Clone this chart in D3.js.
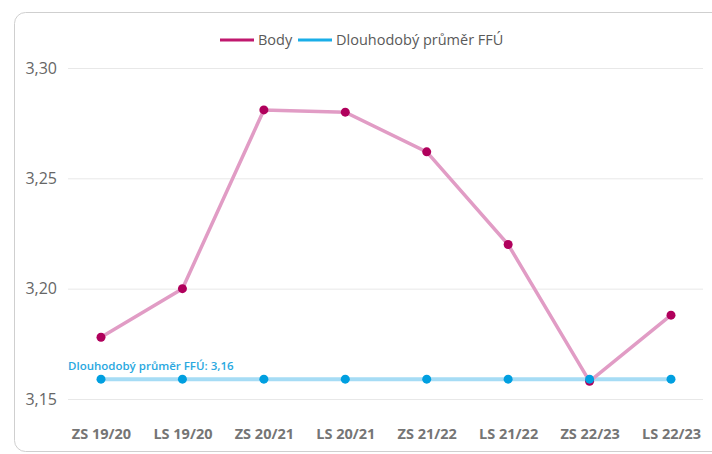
<!DOCTYPE html>
<html>
<head>
<meta charset="utf-8">
<script src="https://cdn.jsdelivr.net/npm/d3@7"></script>
<style>
  body { margin: 0; background: #fff; }
  text { font-family: "Open Sans", sans-serif; }
</style>
</head>
<body>
<div id="chart"></div>
<script>
// semesters on the x axis
const semesters = ["ZS 19/20", "LS 19/20", "ZS 20/21", "LS 20/21", "ZS 21/22", "LS 21/22", "ZS 22/23", "LS 22/23"];
// Body series
const body = [3.178, 3.200, 3.281, 3.280, 3.262, 3.220, 3.158, 3.188];
// long-term average
const prumer = [3.159, 3.159, 3.159, 3.159, 3.159, 3.159, 3.159, 3.159];
const yTicks = [3.15, 3.20, 3.25, 3.30];

const width = 712, height = 454;

const svg = d3.select("#chart").append("svg")
  .attr("width", width)
  .attr("height", height);

/* card frame */
svg.append("rect")
  .attr("x", 14.5).attr("y", 12.5)
  .attr("width", 710).attr("height", 439)
  .attr("rx", 11)
  .attr("fill", "#fff")
  .attr("stroke", "#cfcfcf");

/* scales */
const x = d3.scalePoint()
  .domain(semesters)
  .range([101, 671]);

const y = d3.scaleLinear()
  .domain([3.15, 3.30])
  .range([399, 68]);

const fmt = v => d3.format(".2f")(v).replace(".", ",");

/* y gridlines + labels */
const yAxis = d3.axisLeft(y)
  .tickValues(yTicks)
  .tickSize(-635)
  .tickPadding(11)
  .tickFormat(fmt);

const yG = svg.append("g")
  .attr("transform", "translate(68,0)")
  .call(yAxis);
yG.select(".domain").remove();
yG.selectAll(".tick line").attr("stroke", "#e8e8e8");
yG.selectAll(".tick text")
  .attr("fill", "#666")
  .style("font-size", "16px");

/* x labels */
const xAxis = d3.axisBottom(x).tickSize(0).tickPadding(0);
const xG = svg.append("g")
  .attr("transform", "translate(0,429)")
  .call(xAxis);
xG.select(".domain").remove();
xG.selectAll(".tick text")
  .attr("fill", "#757575")
  .style("font-size", "14.5px")
  .style("font-weight", "bold");

const line = d3.line()
  .x((d, i) => x(semesters[i]))
  .y(d => y(d));

/* average line */
svg.append("path")
  .datum(prumer)
  .attr("d", line)
  .attr("fill", "none")
  .attr("stroke", "#a6dcf5")
  .attr("stroke-width", 4);

/* body line */
svg.append("path")
  .datum(body)
  .attr("d", line)
  .attr("fill", "none")
  .attr("stroke", "#e19cc5")
  .attr("stroke-width", 3.5);

svg.append("g").selectAll("circle")
  .data(body)
  .join("circle")
  .attr("cx", (d, i) => x(semesters[i]))
  .attr("cy", d => y(d))
  .attr("r", 4.5)
  .attr("fill", "#b0005c");

svg.append("g").selectAll("circle")
  .data(prumer)
  .join("circle")
  .attr("cx", (d, i) => x(semesters[i]))
  .attr("cy", d => y(d))
  .attr("r", 4.5)
  .attr("fill", "#009fe0");

/* annotation for the average */
svg.append("text")
  .attr("x", 68)
  .attr("y", y(prumer[0]) - 9)
  .attr("fill", "#2aa8e0")
  .style("font-size", "11.5px")
  .style("font-weight", "600")
  .text("Dlouhodobý průměr FFÚ: " + d3.format(".2f")(prumer[0]).replace(".", ","));

/* legend */
const legend = svg.append("g").attr("transform", "translate(220,40)");
const items = [
  {name: "Body", color: "#c0186e", x: 0},
  {name: "Dlouhodobý průměr FFÚ", color: "#1aaee8", x: 78}
];
items.forEach(it => {
  legend.append("line")
    .attr("x1", it.x).attr("x2", it.x + 34)
    .attr("y1", 0).attr("y2", 0)
    .attr("stroke", it.color)
    .attr("stroke-width", 3);
  legend.append("text")
    .attr("x", it.x + 38)
    .attr("y", 5)
    .attr("fill", "#595959")
    .style("font-size", "14.5px")
    .text(it.name);
});
</script>
</body>
</html>
